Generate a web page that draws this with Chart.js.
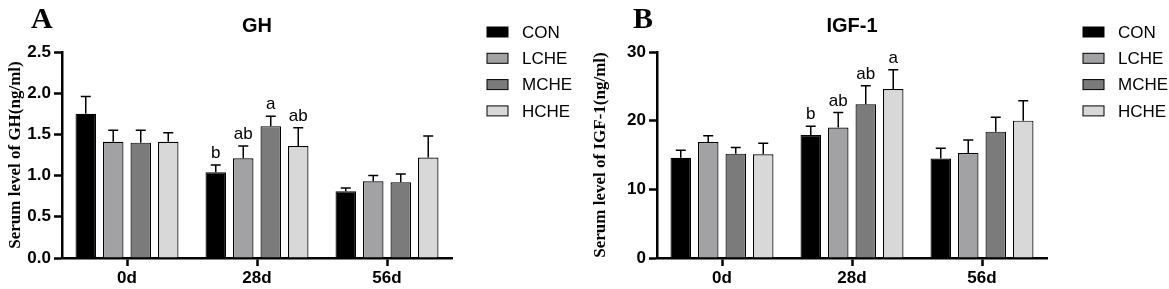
<!DOCTYPE html>
<html>
<head>
<meta charset="utf-8">
<script src="https://cdn.jsdelivr.net/npm/chart.js@4.4.0/dist/chart.umd.min.js"></script>
<style>
  body { margin: 0; background: #fff; }
  .panel { position: absolute; top: 0; height: 289px; }
  #pa { left: 0; width: 585px; }
  #pb { left: 585px; width: 584px; }
</style>
</head>
<body>
<div class="panel" id="pa"><canvas id="chartA"></canvas></div>
<div class="panel" id="pb"><canvas id="chartB"></canvas></div>
<script>
// Data
var days = ["0d", "28d", "56d"];
var groups = ["CON", "LCHE", "MCHE", "HCHE"];
var groupColors = ["#000000", "#a2a2a5", "#7b7b7b", "#d8d8d8"];

// GH (ng/ml)
var ghCON = [1.75, 1.04, 0.81];
var ghLCHE = [1.41, 1.21, 0.93];
var ghMCHE = [1.40, 1.60, 0.92];
var ghHCHE = [1.41, 1.36, 1.22];
var ghErrCON = [0.21, 0.09, 0.04];
var ghErrLCHE = [0.14, 0.15, 0.07];
var ghErrMCHE = [0.15, 0.12, 0.10];
var ghErrHCHE = [0.11, 0.22, 0.26];
var ghSig = [["", "b", ""], ["", "ab", ""], ["", "a", ""], ["", "ab", ""]];

// IGF-1 (ng/ml)
var igfCON = [14.6, 17.9, 14.5];
var igfLCHE = [16.9, 19.0, 15.3];
var igfMCHE = [15.2, 22.4, 18.4];
var igfHCHE = [15.1, 24.6, 20.0];
var igfErrCON = [1.1, 1.3, 1.5];
var igfErrLCHE = [0.9, 2.2, 1.9];
var igfErrMCHE = [0.9, 2.7, 2.1];
var igfErrHCHE = [1.6, 2.8, 2.9];
var igfSig = [["", "b", ""], ["", "ab", ""], ["", "ab", ""], ["", "a", ""]];

// error bars + significance letters
var errorBars = {
  id: "errorBars",
  afterDatasetsDraw: function (chart) {
    var ctx = chart.ctx;
    var y = chart.scales.y;
    chart.data.datasets.forEach(function (ds, di) {
      var meta = chart.getDatasetMeta(di);
      meta.data.forEach(function (bar, i) {
        var top = y.getPixelForValue(ds.data[i] + ds.err[i]);
        ctx.save();
        ctx.strokeStyle = "#000";
        ctx.lineWidth = 1.5;
        ctx.beginPath();
        ctx.moveTo(bar.x, bar.y);
        ctx.lineTo(bar.x, top);
        ctx.moveTo(bar.x - 5, top);
        ctx.lineTo(bar.x + 5, top);
        ctx.stroke();
        if (ds.sig[i]) {
          ctx.fillStyle = "#000";
          ctx.font = "17px Arial, 'Liberation Sans'";
          ctx.textAlign = "center";
          ctx.textBaseline = "bottom";
          ctx.fillText(ds.sig[i], bar.x, top - 3);
        }
        ctx.restore();
      });
    });
  },
};

// panel letter, title and legend
var decorations = {
  id: "decorations",
  afterDraw: function (chart, args, opts) {
    var ctx = chart.ctx;
    var area = chart.chartArea;
    ctx.save();
    ctx.fillStyle = "#000";
    ctx.font = "bold 30px 'Liberation Serif', 'Times New Roman'";
    ctx.textAlign = "left";
    ctx.textBaseline = "alphabetic";
    ctx.fillText(opts.letter, opts.letterX, 28);

    ctx.font = "bold 20px Arial, 'Liberation Sans'";
    ctx.textAlign = "center";
    ctx.textBaseline = "middle";
    ctx.fillText(opts.title, (area.left + area.right) / 2, 26);

    ctx.font = "17px Arial, 'Liberation Sans'";
    ctx.textAlign = "left";
    chart.data.datasets.forEach(function (ds, i) {
      var cy = 32 + i * 26.3;
      ctx.fillStyle = ds.backgroundColor;
      ctx.fillRect(opts.legendX, cy - 5, 21, 10);
      ctx.strokeStyle = "#000";
      ctx.lineWidth = 1;
      ctx.strokeRect(opts.legendX, cy - 5, 21, 10);
      ctx.fillStyle = "#000";
      ctx.fillText(ds.label, opts.legendX + 35, cy + 1);
    });
    ctx.restore();
  },
};

function makeChart(id, series, errs, sigs, yMax, yStep, yDigits, yTitle, deco, axisWidth, padRight) {
  return new Chart(document.getElementById(id), {
    type: "bar",
    data: {
      labels: days,
      datasets: groups.map(function (g, i) {
        return {
          label: g,
          data: series[i],
          err: errs[i],
          sig: sigs[i],
          backgroundColor: groupColors[i],
          borderColor: "#000",
          borderWidth: 1.2,
          categoryPercentage: 0.846,
          barPercentage: 0.745,
        };
      }),
    },
    options: {
      responsive: true,
      maintainAspectRatio: false,
      animation: false,
      events: [],
      layout: { padding: { top: 52, right: padRight, left: 0, bottom: 0 } },
      plugins: {
        legend: { display: false },
        tooltip: { enabled: false },
        decorations: deco,
      },
      scales: {
        x: {
          grid: {
            offset: false,
            drawOnChartArea: false,
            drawTicks: true,
            tickLength: 8,
            tickWidth: 2.5,
            color: "#000",
          },
          border: { display: true, color: "#000", width: 2.5 },
          ticks: {
            color: "#000",
            padding: 2,
            font: { family: "Arial, 'Liberation Sans'", size: 17, weight: "bold" },
          },
          afterFit: function (s) { s.height = 31; },
        },
        y: {
          min: 0,
          max: yMax,
          grid: {
            drawOnChartArea: false,
            drawTicks: true,
            tickLength: 8,
            tickWidth: 2.5,
            color: "#000",
          },
          border: { display: true, color: "#000", width: 2.5 },
          ticks: {
            stepSize: yStep,
            color: "#000",
            padding: 3,
            font: { family: "Arial, 'Liberation Sans'", size: 17, weight: "bold" },
            callback: function (v) { return Number(v).toFixed(yDigits); },
          },
          title: {
            display: true,
            text: yTitle,
            color: "#000",
            padding: { top: 5, bottom: 0 },
            font: { family: "'Liberation Serif', 'Times New Roman'", size: 17, weight: "bold" },
          },
          afterFit: function (s) { s.width = axisWidth; },
        },
      },
    },
    plugins: [errorBars, decorations],
  });
}

makeChart(
  "chartA",
  [ghCON, ghLCHE, ghMCHE, ghHCHE],
  [ghErrCON, ghErrLCHE, ghErrMCHE, ghErrHCHE],
  ghSig, 2.5, 0.5, 1,
  "Serum level of GH(ng/ml)",
  { letter: "A", letterX: 31, title: "GH", legendX: 487 },
  62, 133
);

makeChart(
  "chartB",
  [igfCON, igfLCHE, igfMCHE, igfHCHE],
  [igfErrCON, igfErrLCHE, igfErrMCHE, igfErrHCHE],
  igfSig, 30, 10, 0,
  "Serum level of IGF-1(ng/ml)",
  { letter: "B", letterX: 48, title: "IGF-1", legendX: 498 },
  72, 122
);
</script>
</body>
</html>
